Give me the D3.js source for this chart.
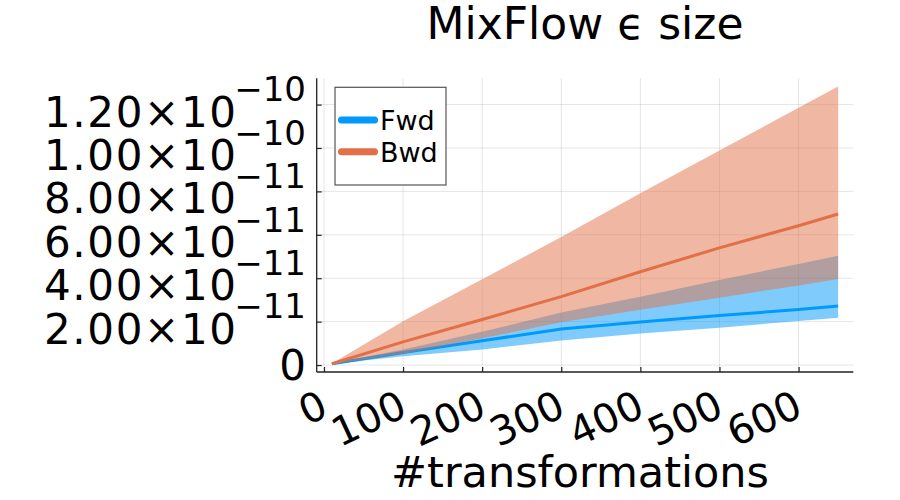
<!DOCTYPE html>
<html><head><meta charset="utf-8">
<script src="https://cdn.jsdelivr.net/npm/d3@7"></script>
<style>
body{margin:0;background:#fff}
svg{display:block}
text{font-family:"DejaVu Sans",sans-serif;fill:#000}
</style>
</head><body>
<svg id="chart" width="900" height="500"></svg>
<script>
// ---- data (values in units of 1e-11) ----
const xs      = [10, 100, 200, 300, 400, 500, 600, 650];
const fwdMean = [0.06, 0.58, 1.12, 1.66, 1.98, 2.28, 2.56, 2.72];
const fwdLow  = [0.05, 0.41, 0.72, 1.13, 1.45, 1.72, 2.03, 2.18];
const fwdHigh = [0.07, 0.72, 1.53, 2.42, 3.15, 3.92, 4.66, 5.04];
const bwdMean = [0.06, 1.07, 2.10, 3.15, 4.30, 5.40, 6.42, 6.96];
const bwdLow  = [0.05, 0.52, 1.23, 1.97, 2.55, 3.10, 3.67, 3.96];
const bwdHigh = [0.07, 2.02, 3.95, 5.90, 7.91, 9.88, 11.85, 12.83];

const seriesNames = ["Fwd", "Bwd"];
const xTickValues = [0, 100, 200, 300, 400, 500, 600];
const xTickLabels = ["0", "100", "200", "300", "400", "500", "600"];
const yTickValues = [0, 2, 4, 6, 8, 10, 12];
const yTickMantissa = ["0", "2.00×10", "4.00×10", "6.00×10", "8.00×10", "1.00×10", "1.20×10"];
const yTickExponent = ["", "−11", "−11", "−11", "−11", "−10", "−10"];
const titleText = "MixFlow ϵ size";
const xLabelText = "#transformations";

// ---- layout ----
const colors = {Fwd: "#009AFA", Bwd: "#E26F46"};
const L = 316.7, R = 853.3, T = 78.3, B = 372;
const svg = d3.select("#chart");

const x = d3.scaleLinear().domain([-9.2, 669.2]).range([L, R]);
const y = d3.scaleLinear().domain([-0.32, 13.21]).range([B, T]);

// grid
const grid = svg.append("g");
grid.selectAll("line.gx").data(xTickValues).join("line")
  .attr("x1", d => x(d)).attr("x2", d => x(d)).attr("y1", T).attr("y2", B)
  .attr("stroke", "#000").attr("stroke-opacity", 0.1).attr("stroke-width", 1);
grid.selectAll("line.gy").data(yTickValues).join("line")
  .attr("y1", d => y(d)).attr("y2", d => y(d)).attr("x1", L).attr("x2", R)
  .attr("stroke", "#000").attr("stroke-opacity", 0.1).attr("stroke-width", 1);

// series
const rows = xs.map((v, i) => ({x: v, fm: fwdMean[i], fl: fwdLow[i], fh: fwdHigh[i],
                                 bm: bwdMean[i], bl: bwdLow[i], bh: bwdHigh[i]}));
const plot = svg.append("g");
const band = (lo, hi) => d3.area().x(d => x(d.x)).y0(d => y(d[lo])).y1(d => y(d[hi]));
const line = key => d3.line().x(d => x(d.x)).y(d => y(d[key]));

plot.append("path").datum(rows).attr("d", band("fl", "fh"))
  .attr("fill", colors.Fwd).attr("fill-opacity", 0.5);
plot.append("path").datum(rows).attr("d", line("fm"))
  .attr("fill", "none").attr("stroke", colors.Fwd).attr("stroke-width", 3);
plot.append("path").datum(rows).attr("d", band("bl", "bh"))
  .attr("fill", colors.Bwd).attr("fill-opacity", 0.5);
plot.append("path").datum(rows).attr("d", line("bm"))
  .attr("fill", "none").attr("stroke", colors.Bwd).attr("stroke-width", 3);

// axes
const xAxis = d3.axisBottom(x).tickValues(xTickValues).tickSize(-5).tickFormat("");
const gx = svg.append("g").attr("transform", `translate(0,${B})`).call(xAxis);
gx.select(".domain").attr("d", `M${L},0H${R}`).attr("stroke", "#222").attr("stroke-width", 1.3);
gx.selectAll(".tick line").attr("stroke", "#222").attr("stroke-width", 1.2);

const yAxis = d3.axisLeft(y).tickValues(yTickValues).tickSize(-5).tickFormat("");
const gy = svg.append("g").attr("transform", `translate(${L},0)`).call(yAxis);
gy.select(".domain").attr("d", `M0,${B}V${T}`).attr("stroke", "#222").attr("stroke-width", 1.3);
gy.selectAll(".tick line").attr("stroke", "#222").attr("stroke-width", 1.2);

// y tick labels with superscript exponent
const ylab = svg.append("g");
yTickValues.forEach((v, i) => {
  if (yTickExponent[i] === "") {
    ylab.append("text").attr("text-anchor", "end").attr("x", 306)
      .attr("y", y(v)).attr("dy", "0.36em").attr("font-size", 42).text(yTickMantissa[i]);
  } else {
    ylab.append("text").attr("text-anchor", "end").attr("x", 236)
      .attr("y", y(v) + 22).attr("font-size", 42)
      .attr("textLength", 192).attr("lengthAdjust", "spacing").text(yTickMantissa[i]);
    ylab.append("text").attr("text-anchor", "end").attr("x", 306)
      .attr("y", y(v) - 3.3).attr("font-size", 34).text(yTickExponent[i]);
  }
});

// x tick labels rotated
const xlab = svg.append("g");
xTickValues.forEach((v, i) => {
  xlab.append("text").attr("text-anchor", "end")
    .attr("transform", `translate(${x(v)},402) rotate(-25)`)
    .attr("dy", "0.36em").attr("font-size", 40).text(xTickLabels[i]);
});

// title and axis label
svg.append("text").attr("x", (L + R) / 2).attr("y", 39.3).attr("text-anchor", "middle")
  .attr("font-size", 44).text(titleText);
svg.append("text").attr("x", (L + R) / 2 - 5).attr("y", 487.3).attr("text-anchor", "middle")
  .attr("font-size", 43).text(xLabelText);

// legend
const lg = svg.append("g");
lg.append("rect").attr("x", 335).attr("y", 87.3).attr("width", 111).attr("height", 97.7)
  .attr("fill", "#fff").attr("stroke", "#555").attr("stroke-width", 1.2);
seriesNames.forEach((s, i) => {
  const yy = 120 + i * 31.7;
  lg.append("line").attr("x1", 341.5).attr("x2", 374.5).attr("y1", yy).attr("y2", yy)
    .attr("stroke", colors[s]).attr("stroke-width", 7).attr("stroke-linecap", "round");
  lg.append("text").attr("x", 380).attr("y", yy + 10).attr("font-size", 27).text(s);
});
</script>
</body></html>
